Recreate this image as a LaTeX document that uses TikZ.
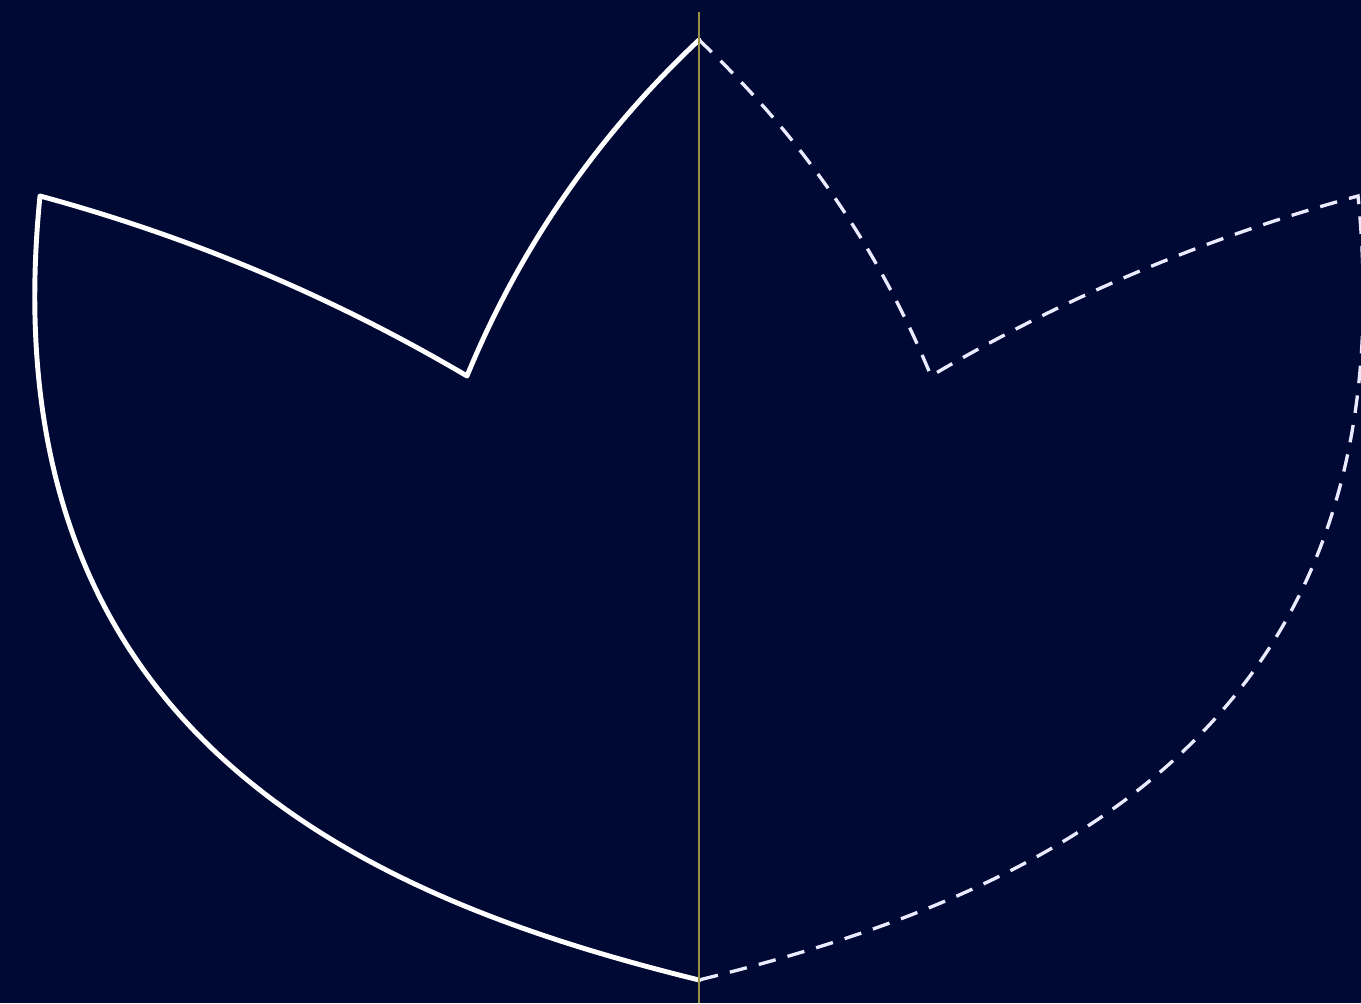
\documentclass[tikz,border=0pt]{standalone}
\usepackage{xcolor}
\usepackage{tikz}

\definecolor{nightsky}{RGB}{0,8,52}
\definecolor{axisgold}{RGB}{150,145,70}

\tikzset{
  outline/.style={line width=1.4pt, white, line join=round, line cap=round},
  mirrored/.style={line width=0.95pt, white!92!blue, dash pattern=on 5pt off 3.5pt},
  axisline/.style={line width=0.6pt, axisgold}
}

% one half of the outline, in pixel units
\newcommand{\petalhalf}{(699,963) .. controls (598,868) and (520,756) .. (467,627)
  .. controls (333,706) and (191,766) .. (40,807)
  .. controls (20,608) and (59,462) .. (130,353)
  .. controls (261,152) and (505,71) .. (699,23)}

\begin{document}
\begin{tikzpicture}[x=0.01cm, y=0.01cm]
  \useasboundingbox (0,0) rectangle (1361,1003);
  \fill[nightsky] (0,0) rectangle (1361,1003);
  \clip (0,0) rectangle (1361,1003);

  % left half, solid
  \draw[outline] \petalhalf;

  % right half, mirrored about the axis
  \begin{scope}[shift={(1398,0)}, xscale=-1]
    \draw[mirrored] \petalhalf;
  \end{scope}

  % axis
  \draw[axisline] (699,991) -- (699,0);
\end{tikzpicture}
\end{document}
